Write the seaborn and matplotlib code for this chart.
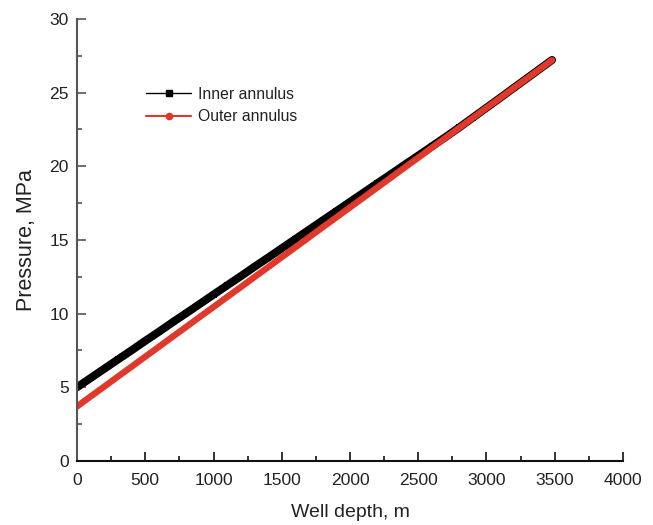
import numpy as np
import pandas as pd
import seaborn as sns
import matplotlib.pyplot as plt
from matplotlib.lines import Line2D
from matplotlib.ticker import MultipleLocator

sns.set_theme(style="ticks")
plt.rcParams['font.family'] = ['Liberation Sans', 'DejaVu Sans']

# Data (depth in m, pressure in MPa)
depth = [0, 100, 200, 300, 400, 500, 600, 700, 800, 900,
         1000, 1100, 1200, 1300, 1400, 1500, 1600, 1700, 1800, 1900,
         2000, 2100, 2200, 2300, 2400, 2500, 2600, 2700, 2800, 2900,
         3000, 3100, 3200, 3300, 3400, 3480]
inner_p = [5.00, 5.63, 6.26, 6.89, 7.51, 8.15, 8.77, 9.41, 10.03, 10.66,
           11.29, 11.92, 12.54, 13.18, 13.80, 14.43, 15.06, 15.69, 16.32, 16.95,
           17.58, 18.21, 18.84, 19.46, 20.10, 20.72, 21.35, 21.98, 22.63, 23.30,
           23.97, 24.64, 25.32, 25.99, 26.67, 27.21]
outer_p = [3.70, 4.38, 5.05, 5.73, 6.40, 7.08, 7.75, 8.43, 9.10, 9.78,
           10.45, 11.13, 11.80, 12.48, 13.15, 13.83, 14.50, 15.18, 15.86, 16.53,
           17.21, 17.88, 18.56, 19.23, 19.91, 20.58, 21.26, 21.93, 22.61, 23.28,
           23.96, 24.63, 25.31, 25.98, 26.66, 27.20]

labels = ['Inner annulus', 'Outer annulus']
red = '#e0382a'
text_c = '#222222'

df = pd.DataFrame({'depth': depth, 'inner': inner_p, 'outer': outer_p})

fig = plt.figure(figsize=(6.53, 5.25), dpi=100)
ax = fig.add_axes([0.118, 0.122, 0.836, 0.842])

sns.lineplot(data=df, x='depth', y='inner', ax=ax, color='black', linewidth=5.8,
             marker='s', markersize=5, markeredgewidth=0, markerfacecolor='black')
sns.lineplot(data=df, x='depth', y='outer', ax=ax, color=red, linewidth=4.6,
             solid_capstyle='round')

ax.set_xlim(0, 4000)
ax.set_ylim(0, 30)
ax.xaxis.set_major_locator(MultipleLocator(500))
ax.xaxis.set_minor_locator(MultipleLocator(250))
ax.yaxis.set_major_locator(MultipleLocator(5))
ax.yaxis.set_minor_locator(MultipleLocator(2.5))

ax.tick_params(axis='both', which='major', direction='in', length=6.5, width=1.2,
               labelsize=12.6, labelcolor=text_c, pad=6)
ax.tick_params(axis='x', which='major', pad=9)
ax.tick_params(axis='both', which='minor', direction='in', length=3.3, width=1.2)
ax.tick_params(axis='y', which='both', color='#555555')
ax.tick_params(axis='x', which='both', color='#111111')

sns.despine(ax=ax)
ax.spines['left'].set_color('#555555')
ax.spines['left'].set_linewidth(1.5)
ax.spines['bottom'].set_color('#111111')
ax.spines['bottom'].set_linewidth(1.5)

ax.set_xlabel('Well depth, m', fontsize=14, color=text_c, labelpad=11)
ax.set_ylabel('Pressure, MPa', fontsize=15.5, color=text_c, labelpad=9)

handles = [Line2D([], [], color='black', linewidth=1, marker='s', markersize=4),
           Line2D([], [], color=red, linewidth=1.5, marker='o', markersize=4.5)]
ax.legend(handles, labels, loc='upper left', bbox_to_anchor=(0.126, 0.847),
          frameon=False, fontsize=11.3, handlelength=2.9, handletextpad=0.4,
          labelspacing=0.5, borderpad=0, borderaxespad=0, labelcolor=text_c)

fig.savefig('out.png', dpi=100)
